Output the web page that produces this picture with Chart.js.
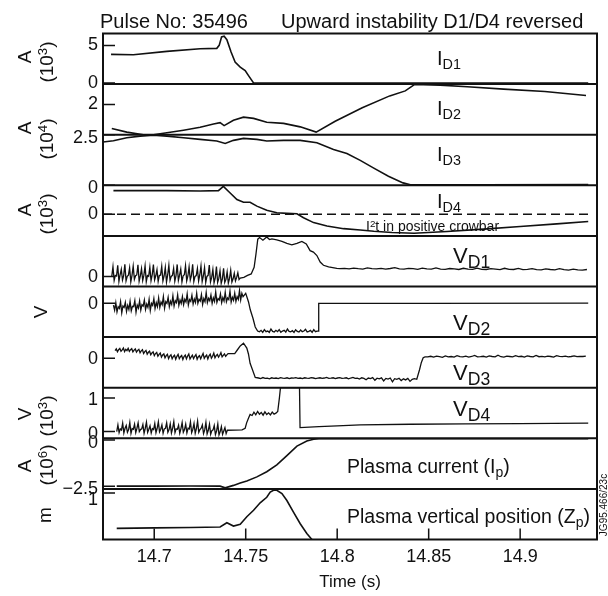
<!DOCTYPE html>
<html>
<head>
<meta charset="utf-8">
<script src="https://cdn.jsdelivr.net/npm/chart.js@4.4.0/dist/chart.umd.min.js"></script>
<style>
  body { margin: 0; background: #fff; }
  #wrap { position: relative; width: 608px; height: 596px; font-family: "Liberation Sans", Arial, sans-serif; color: #111; overflow: hidden; }
  #wrap canvas { position: absolute; left: 0; top: 0; }
  .lbl { position: absolute; white-space: nowrap; line-height: 1; }
  .vlbl sub { font-size: 0.8em; }
  .rot { position: absolute; white-space: nowrap; line-height: 1; font-size: 19px; transform: translate(-50%, -50%) rotate(-90deg); }
  sub { font-size: 0.72em; vertical-align: -0.3em; line-height: 0; }
  sup { font-size: 0.7em; vertical-align: 0.45em; line-height: 0; }
</style>
</head>
<body>
<div id="wrap">
  <canvas id="chart" width="608" height="596"></canvas>

  <div class="lbl" style="left:100px;top:11px;font-size:20px">Pulse No: 35496</div>
  <div class="lbl" style="left:281px;top:11px;font-size:20px">Upward instability D1/D4 reversed</div>

  <div class="lbl" style="left:437px;top:48px;font-size:20px">I<sub>D1</sub></div>
  <div class="lbl" style="left:437px;top:98px;font-size:20px">I<sub>D2</sub></div>
  <div class="lbl" style="left:437px;top:144px;font-size:20px">I<sub>D3</sub></div>
  <div class="lbl" style="left:437px;top:191px;font-size:20px">I<sub>D4</sub></div>
  <div class="lbl" style="left:366px;top:219px;font-size:14px">I<sup>2</sup>t in positive crowbar</div>
  <div class="lbl vlbl" style="left:453px;top:245px;font-size:22px">V<sub>D1</sub></div>
  <div class="lbl vlbl" style="left:453px;top:312px;font-size:22px">V<sub>D2</sub></div>
  <div class="lbl vlbl" style="left:453px;top:362px;font-size:22px">V<sub>D3</sub></div>
  <div class="lbl vlbl" style="left:453px;top:398px;font-size:22px">V<sub>D4</sub></div>
  <div class="lbl" style="left:347px;top:457px;font-size:19.5px">Plasma current (I<sub>p</sub>)</div>
  <div class="lbl" style="left:347px;top:507px;font-size:19.5px">Plasma vertical position (Z<sub>p</sub>)</div>

  <div class="rot" style="left:24px;top:57px">A</div>
  <div class="rot" style="left:46px;top:62px">(10<sup>3</sup>)</div>
  <div class="rot" style="left:24px;top:128px">A</div>
  <div class="rot" style="left:46px;top:139px">(10<sup>4</sup>)</div>
  <div class="rot" style="left:24px;top:210px">A</div>
  <div class="rot" style="left:46px;top:214px">(10<sup>3</sup>)</div>
  <div class="rot" style="left:40px;top:312px">V</div>
  <div class="rot" style="left:24px;top:414px">V</div>
  <div class="rot" style="left:46px;top:416px">(10<sup>3</sup>)</div>
  <div class="rot" style="left:24px;top:466px">A</div>
  <div class="rot" style="left:46px;top:465px">(10<sup>6</sup>)</div>
  <div class="rot" style="left:44px;top:515px">m</div>
  <div class="rot" style="left:604px;top:505px;font-size:10px">JG95.466/23c</div>
</div>

<script>
// Time axis (s)
const timeMin = 14.672
const timeMax = 14.942
const timeTicks = [14.7, 14.75, 14.8, 14.85, 14.9]

// Tick values on each panel
const id1Ticks = [0, 5]
const id2Ticks = [2]
const id3Ticks = [0, 2.5]
const id4Ticks = [0]
const vd1Ticks = [0]
const vd2Ticks = [0]
const vd3Ticks = [0]
const vd4Ticks = [0, 1]
const ipTicks = [-2.5, 0]
const zpTicks = [1]

// I_D1 (10^3 A)
const id1Time = [14.6764, 14.6886, 14.7069, 14.7251, 14.7342, 14.7355, 14.7368, 14.7382, 14.7397, 14.742, 14.7442, 14.747, 14.7497, 14.7519, 14.7543, 14.76, 14.85, 14.9372]
const id1Value = [3.81, 3.77, 4.22, 4.57, 4.62, 5.02, 6.14, 6.23, 5.78, 4.13, 2.78, 2.11, 1.66, 0.85, 0.0, 0.0, 0.0, 0.0]

// I_D2 (10^4 A)
const id2Time = [14.6768, 14.685, 14.6941, 14.6996, 14.7069, 14.716, 14.7251, 14.7324, 14.736, 14.7382, 14.7433, 14.7488, 14.7543, 14.7615, 14.7707, 14.7798, 14.7885, 14.7989, 14.8137, 14.8287, 14.8372, 14.8424, 14.8562, 14.8711, 14.891, 14.9135, 14.936]
const id2Value = [0.41, 0.17, 0.0, 0.0, 0.13, 0.3, 0.49, 0.71, 0.8, 0.6, 0.95, 1.16, 1.08, 0.82, 0.75, 0.52, 0.17, 0.89, 1.79, 2.57, 2.9, 3.33, 3.28, 3.17, 3.02, 2.86, 2.6]

// I_D3 (10^4 A)
const id3Time = [14.672, 14.6777, 14.685, 14.6923, 14.6996, 14.7069, 14.716, 14.7251, 14.7342, 14.7388, 14.7433, 14.7488, 14.7561, 14.7615, 14.7707, 14.7798, 14.7889, 14.798, 14.8053, 14.8126, 14.82, 14.828, 14.836, 14.84, 14.88, 14.9372]
const id3Value = [2.14, 2.2, 2.35, 2.43, 2.47, 2.43, 2.35, 2.27, 2.19, 2.07, 2.22, 2.32, 2.27, 2.19, 2.22, 2.22, 2.1, 1.77, 1.57, 1.23, 0.85, 0.45, 0.12, 0.03, 0.03, 0.04]

// I_D4 (10^3 A) and the I2t crowbar reference
const id4Time = [14.6777, 14.7069, 14.7251, 14.7351, 14.7378, 14.7415, 14.7452, 14.7488, 14.7524, 14.7561, 14.7615, 14.767, 14.7725, 14.778, 14.7816, 14.7871, 14.7944, 14.8035, 14.8126, 14.82, 14.83, 14.842, 14.86, 14.88, 14.9, 14.92, 14.9372]
const id4Value = [1.63, 1.63, 1.61, 1.63, 1.93, 1.47, 1.02, 0.83, 0.83, 0.56, 0.28, 0.1, 0.06, 0.03, -0.24, -0.58, -0.81, -1.0, -1.09, -1.18, -1.27, -1.32, -1.2, -1.03, -0.85, -0.67, -0.5]
const crowbarTime = [14.672, 14.9385]
const crowbarValue = [0, 0]

// V_D1
const vd1NoiseStart = 14.6768
const vd1NoiseStep = 0.00065
const vd1Noise = [0.0, 0.48, -0.2, 0.05, 0.02, 0.55, -0.25, 0.08, 0.35, -0.18, 0.04, 0.6, -0.22, 0.0, 0.06, 0.42, -0.27, 0.05, 0.5, -0.15, 0.03, 0.07, 0.57, -0.24, 0.02, 0.38, -0.2, 0.06, 0.52, -0.26, 0.04, 0.0, 0.45, -0.21, 0.08, 0.58, -0.17, 0.03, 0.33, -0.25, 0.05, 0.06, 0.5, -0.23, 0.02, 0.44, -0.28, 0.07, 0.55, -0.19, 0.0, 0.05, 0.4, -0.24, 0.04, 0.59, -0.2, 0.06, 0.36, -0.27, 0.03, 0.08, 0.53, -0.22, 0.02, 0.47, -0.18, 0.05, 0.6, -0.25, 0.0, 0.04, 0.39, -0.23, 0.07, 0.51, -0.26, 0.02, 0.43, -0.3, 0.0, 0.05, 0.56, -0.28, -0.05, 0.34, -0.32, -0.08, 0.48, -0.3, -0.1, 0.28, -0.34, -0.12, 0.4, -0.3, -0.15, 0.22, -0.33, -0.1, 0.3, -0.28, -0.12, 0.15, -0.22, -0.05, 0.18, -0.15, -0.08]
const vd1Time = [14.749, 14.751, 14.753, 14.7546, 14.7556, 14.7566, 14.7576, 14.7594, 14.7615, 14.763, 14.7643, 14.767, 14.7698, 14.7725, 14.7752, 14.778, 14.7807, 14.7831, 14.7852, 14.787, 14.7889, 14.7907, 14.7925, 14.7953, 14.7998]
const vd1Value = [-0.05, 0.05, 0.12, 0.45, 1.1, 1.84, 1.92, 1.79, 1.95, 1.82, 1.85, 1.8, 1.73, 1.63, 1.56, 1.63, 1.73, 1.6, 1.27, 1.2, 1.03, 0.71, 0.55, 0.47, 0.4]
const vd1TailStart = 14.8015
const vd1TailStep = 0.0025
const vd1Tail = [0.38, 0.4, 0.37, 0.41, 0.38, 0.36, 0.42, 0.38, 0.37, 0.4, 0.36, 0.39, 0.43, 0.37, 0.36, 0.4, 0.38, 0.35, 0.41, 0.37, 0.36, 0.42, 0.36, 0.35, 0.39, 0.37, 0.34, 0.4, 0.36, 0.35, 0.41, 0.35, 0.34, 0.38, 0.36, 0.33, 0.4, 0.35, 0.34, 0.39, 0.33, 0.35, 0.38, 0.33, 0.32, 0.37, 0.34, 0.32, 0.38, 0.33, 0.31, 0.36, 0.32, 0.31, 0.34]

// V_D2
const vd2NoiseStart = 14.6777
const vd2NoiseStep = 0.00065
const vd2Noise = [-0.05, -0.2, 0.02, -0.25, -0.1, -0.15, 0.05, -0.28, -0.08, -0.12, 0.03, -0.24, -0.06, -0.18, 0.06, -0.22, -0.09, -0.1, 0.08, -0.26, -0.05, -0.14, 0.07, -0.2, -0.04, -0.08, 0.1, -0.18, -0.02, -0.12, 0.12, -0.21, 0.0, -0.06, 0.14, -0.15, 0.02, -0.1, 0.16, -0.12, 0.04, -0.04, 0.2, -0.14, 0.05, 0.0, 0.18, -0.1, 0.06, -0.03, 0.22, -0.08, 0.08, 0.02, 0.25, -0.06, 0.1, 0.0, 0.2, -0.04, 0.12, 0.04, 0.28, -0.05, 0.11, 0.06, 0.24, -0.02, 0.13, 0.03, 0.3, 0.0, 0.12, 0.07, 0.26, -0.03, 0.14, 0.05, 0.32, 0.02, 0.15, 0.08, 0.25, 0.0, 0.16, 0.06, 0.34, 0.03, 0.14, 0.1, 0.28, 0.02, 0.17, 0.07, 0.33, 0.05, 0.16, 0.11, 0.36, 0.04, 0.18, 0.09, 0.3, 0.06, 0.2, 0.12, 0.38, 0.1, 0.3, 0.2]
const vd2DropTime = [14.75, 14.7515, 14.7525, 14.754, 14.7552, 14.7565]
const vd2DropValue = [0.3, 0.05, -0.19, -0.45, -0.7, -0.82]
const vd2LowStart = 14.7575
const vd2LowStep = 0.0009
const vd2Low = [-0.84, -0.8, -0.86, -0.78, -0.84, -0.82, -0.86, -0.76, -0.83, -0.85, -0.8, -0.84, -0.78, -0.86, -0.82, -0.8, -0.85, -0.76, -0.83, -0.84, -0.81, -0.86, -0.78, -0.83, -0.85, -0.79, -0.84, -0.82, -0.77, -0.85, -0.83, -0.8, -0.86, -0.78, -0.84, -0.82]
const vd2StepTime = [14.7898, 14.7899, 14.85, 14.9372]
const vd2StepValue = [-0.82, 0.0, 0.0, 0.01]

// V_D3
const vd3NoiseStart = 14.6786
const vd3NoiseStep = 0.00065
const vd3Noise = [0.36, 0.44, 0.3, 0.4, 0.46, 0.33, 0.39, 0.48, 0.31, 0.42, 0.36, 0.47, 0.32, 0.4, 0.45, 0.3, 0.38, 0.44, 0.29, 0.37, 0.42, 0.26, 0.35, 0.4, 0.22, 0.31, 0.37, 0.19, 0.28, 0.33, 0.16, 0.25, 0.3, 0.12, 0.22, 0.27, 0.09, 0.18, 0.24, 0.05, 0.15, 0.2, 0.02, 0.12, 0.18, -0.02, 0.1, 0.16, -0.03, 0.08, 0.14, -0.05, 0.09, 0.18, -0.02, 0.07, 0.13, -0.06, 0.08, 0.15, -0.03, 0.1, 0.2, -0.04, 0.06, 0.14, -0.02, 0.09, 0.17, -0.05, 0.07, 0.12, -0.03, 0.1, 0.22, -0.01, 0.08, 0.15, -0.04, 0.11, 0.19, 0.0, 0.09, 0.24, 0.02, 0.12, 0.18, 0.05, 0.14, 0.26, 0.06, 0.13, 0.2, 0.09, 0.16, 0.22]
const vd3SwingTime = [14.744, 14.7455, 14.747, 14.7488, 14.7506, 14.7515, 14.7524, 14.7535, 14.7552]
const vd3SwingValue = [0.22, 0.4, 0.58, 0.71, 0.48, 0.2, -0.24, -0.5, -0.91]
const vd3LowStart = 14.757
const vd3LowStep = 0.0012
const vd3Low = [-0.94, -0.97, -0.92, -0.96, -0.95, -0.98, -0.93, -0.96, -0.94, -0.97, -0.92, -0.95, -0.96, -0.93, -0.97, -0.94, -0.95, -0.92, -0.96, -0.94, -0.97, -0.93, -0.95, -0.96, -0.92, -0.94, -0.97, -0.95, -0.93, -0.96, -0.94, -0.91, -0.96, -0.95, -0.93, -0.97, -0.94, -0.92, -0.96, -0.95, -0.93, -0.98, -0.94, -0.91, -0.96, -0.95, -0.99, -0.93, -0.96, -1.02, -0.94, -0.97, -0.92, -1.05, -0.95, -0.98, -0.93, -1.08, -0.96, -0.99, -0.94, -1.12, -0.97, -1.0, -0.95, -1.06, -0.98, -1.03, -0.96, -1.1, -1.0, -0.97]
const vd3RiseTime = [14.8435, 14.845, 14.846, 14.847, 14.848]
const vd3RiseValue = [-1.0, -0.55, -0.2, 0.02, 0.06]
const vd3TailStart = 14.8495
const vd3TailStep = 0.0016
const vd3Tail = [0.06, 0.09, 0.05, 0.1, 0.07, 0.04, 0.11, 0.06, 0.08, 0.05, 0.12, 0.07, 0.06, 0.1, 0.05, 0.08, 0.13, 0.06, 0.07, 0.09, 0.05, 0.11, 0.08, 0.06, 0.14, 0.07, 0.05, 0.1, 0.08, 0.06, 0.12, 0.07, 0.09, 0.05, 0.11, 0.08, 0.06, 0.13, 0.07, 0.09, 0.06, 0.1, 0.08, 0.05, 0.12, 0.09, 0.07, 0.1, 0.06, 0.08, 0.11, 0.07, 0.09, 0.08, 0.1]

// V_D4 (10^3 V)
const vd4NoiseStart = 14.6795
const vd4NoiseStep = 0.00065
const vd4Noise = [0.0, 0.2, -0.03, 0.08, 0.05, 0.25, -0.04, 0.1, 0.18, -0.02, 0.06, 0.27, -0.05, 0.09, 0.07, 0.22, -0.03, 0.1, 0.26, 0.0, 0.06, 0.08, 0.21, -0.05, 0.1, 0.28, -0.02, 0.07, 0.17, -0.04, 0.09, 0.06, 0.24, -0.03, 0.1, 0.29, -0.01, 0.07, 0.2, -0.05, 0.08, 0.1, 0.26, -0.02, 0.06, 0.23, -0.04, 0.1, 0.3, -0.03, 0.08, 0.07, 0.19, -0.05, 0.09, 0.27, -0.02, 0.06, 0.22, -0.04, 0.1, 0.08, 0.29, -0.03, 0.07, 0.24, -0.05, 0.09, 0.31, -0.02, 0.06, 0.1, 0.2, -0.06, 0.05, 0.27, -0.07, 0.04, 0.22, -0.08, 0.03, 0.05, 0.18, -0.09, 0.02, 0.23, -0.1, 0.0, 0.15, -0.08, 0.02, 0.12, -0.06, 0.04]
const vd4Time = [14.748, 14.7497, 14.7505, 14.7515, 14.7524, 14.7535, 14.7545, 14.7555, 14.7565, 14.7575, 14.7585, 14.7595, 14.7605, 14.7615, 14.7625, 14.7635, 14.7645, 14.7655, 14.7665, 14.7675, 14.7684, 14.769, 14.7794, 14.7797, 14.79, 14.8, 14.8126, 14.84, 14.87, 14.9, 14.9372]
const vd4Value = [0.05, 0.1, 0.26, 0.4, 0.51, 0.48, 0.58, 0.5, 0.6, 0.52, 0.57, 0.49, 0.59, 0.51, 0.56, 0.5, 0.58, 0.52, 0.55, 0.6, 1.0, 1.31, 1.31, 0.12, 0.15, 0.17, 0.2, 0.22, 0.23, 0.24, 0.25]

// Plasma current (10^6 A)
const ipTime = [14.6795, 14.7, 14.72, 14.736, 14.7388, 14.7433, 14.747, 14.7506, 14.7561, 14.7615, 14.767, 14.7725, 14.778, 14.7834, 14.7871, 14.79, 14.9372]
const ipValue = [-2.5, -2.5, -2.49, -2.5, -2.59, -2.46, -2.33, -2.22, -2.0, -1.72, -1.35, -0.85, -0.33, -0.06, 0.04, 0.07, 0.07]

// Plasma vertical position (m)
const zpTime = [14.6795, 14.7, 14.72, 14.736, 14.7397, 14.7433, 14.747, 14.7506, 14.7543, 14.7579, 14.7615, 14.7634, 14.7652, 14.767, 14.7698, 14.7725, 14.7761, 14.7798, 14.7834, 14.7862]
const zpValue = [0.24, 0.25, 0.26, 0.27, 0.36, 0.29, 0.33, 0.49, 0.63, 0.79, 0.91, 1.02, 1.06, 1.06, 0.99, 0.84, 0.59, 0.34, 0.13, 0.0]

function pairs(times, values) {
  return times.map((t, i) => ({ x: t, y: values[i] }))
}

function sampled(start, step, values) {
  return values.map((v, i) => ({ x: start + i * step, y: v }))
}

const ink = "#111"
Chart.defaults.font.family = '"Liberation Sans", Arial, sans-serif'
Chart.defaults.color = ink

// One y axis per panel, stacked top to bottom
const panelIds = ["yID1", "yID2", "yID3", "yID4", "yVD1", "yVD2", "yVD3", "yVD4", "yIp", "yZp"]

function panelScale(index, min, max, tickValues, labelShift) {
  return {
    type: "linear",
    position: "left",
    stack: "panels",
    stackWeight: 1,
    weight: 100 - index,
    min: min,
    max: max,
    grid: { display: false, drawTicks: false },
    border: { display: false },
    ticks: {
      font: { size: 18 },
      color: ink,
      padding: 5,
      labelOffset: labelShift || 0,
      callback: (value) => (value < 0 ? "\u2212" + Math.abs(value) : String(value)),
    },
    afterBuildTicks: (scale) => {
      scale.ticks = tickValues.map((v) => ({ value: v }))
    },
    afterFit: (scale) => {
      scale.width = 90
    },
  }
}

function trace(points, axis, extra) {
  return Object.assign({ data: points, yAxisID: axis, borderColor: ink, borderWidth: 1.6, pointRadius: 0, tension: 0 }, extra || {})
}

// Frame, panel dividers and inward tick marks
const framePlugin = {
  id: "frame",
  afterDatasetsDraw(chart) {
    const { ctx, chartArea: a, scales } = chart
    ctx.save()
    ctx.strokeStyle = ink
    ctx.lineWidth = 2
    ctx.strokeRect(a.left, a.top, a.right - a.left, a.bottom - a.top)
    ctx.beginPath()
    panelIds.slice(1).forEach((id) => {
      const y = scales[id].top
      ctx.moveTo(a.left, y)
      ctx.lineTo(a.right, y)
    })
    ctx.stroke()
    ctx.lineWidth = 1.5
    ctx.beginPath()
    panelIds.forEach((id) => {
      const s = scales[id]
      s.ticks.forEach((t) => {
        const y = s.getPixelForValue(t.value)
        ctx.moveTo(a.left, y)
        ctx.lineTo(a.left + 12, y)
      })
    })
    scales.x.ticks.forEach((t) => {
      const x = scales.x.getPixelForValue(t.value)
      ctx.moveTo(x, a.bottom)
      ctx.lineTo(x, a.bottom - 11)
    })
    ctx.stroke()
    ctx.restore()
  },
}

const vd1Points = sampled(vd1NoiseStart, vd1NoiseStep, vd1Noise).concat(pairs(vd1Time, vd1Value), sampled(vd1TailStart, vd1TailStep, vd1Tail))
const vd2Points = sampled(vd2NoiseStart, vd2NoiseStep, vd2Noise).concat(pairs(vd2DropTime, vd2DropValue), sampled(vd2LowStart, vd2LowStep, vd2Low), pairs(vd2StepTime, vd2StepValue))
const vd3Points = sampled(vd3NoiseStart, vd3NoiseStep, vd3Noise).concat(pairs(vd3SwingTime, vd3SwingValue), sampled(vd3LowStart, vd3LowStep, vd3Low), pairs(vd3RiseTime, vd3RiseValue), sampled(vd3TailStart, vd3TailStep, vd3Tail))
const vd4Points = sampled(vd4NoiseStart, vd4NoiseStep, vd4Noise).concat(pairs(vd4Time, vd4Value))

new Chart(document.getElementById("chart"), {
  type: "line",
  data: {
    datasets: [
      trace(pairs(id1Time, id1Value), "yID1"),
      trace(pairs(id2Time, id2Value), "yID2"),
      trace(pairs(id3Time, id3Value), "yID3"),
      trace(pairs(id4Time, id4Value), "yID4"),
      trace(pairs(crowbarTime, crowbarValue), "yID4", { borderDash: [9, 5], borderWidth: 1.5 }),
      trace(vd1Points, "yVD1", { borderWidth: 1.3 }),
      trace(vd2Points, "yVD2", { borderWidth: 1.3 }),
      trace(vd3Points, "yVD3", { borderWidth: 1.3 }),
      trace(vd4Points, "yVD4", { borderWidth: 1.3 }),
      trace(pairs(ipTime, ipValue), "yIp"),
      trace(pairs(zpTime, zpValue), "yZp"),
    ],
  },
  options: {
    responsive: false,
    animation: false,
    events: [],
    layout: { padding: { top: 33.5, left: 13, right: 11, bottom: 0 } },
    plugins: { legend: { display: false }, tooltip: { enabled: false } },
    scales: {
      x: {
        type: "linear",
        position: "bottom",
        min: timeMin,
        max: timeMax,
        grid: { display: false, drawTicks: false },
        border: { display: false },
        ticks: { font: { size: 18 }, color: ink, padding: 7, maxRotation: 0, callback: (value) => String(value) },
        afterBuildTicks: (scale) => {
          scale.ticks = timeTicks.map((v) => ({ value: v }))
        },
        title: { display: true, text: "Time (s)", font: { size: 17 }, color: ink, padding: { top: 0, bottom: 3 } },
        afterFit: (scale) => {
          scale.height = 56.5
        },
      },
      yID1: panelScale(0, -0.15, 6.6, id1Ticks),
      yID2: panelScale(1, 0, 3.35, id2Ticks),
      yID3: panelScale(2, 0, 2.5, id3Ticks, 3),
      yID4: panelScale(3, -1.5, 2.0, id4Ticks),
      yVD1: panelScale(4, -0.5, 2.0, vd1Ticks, 1),
      yVD2: panelScale(5, -1.0, 0.5, vd2Ticks, 1),
      yVD3: panelScale(6, -1.4, 1.0, vd3Ticks, 1),
      yVD4: panelScale(7, -0.2, 1.31, vd4Ticks, 2),
      yIp: panelScale(8, -2.65, 0.09, ipTicks, 3),
      yZp: panelScale(9, 0, 1.09, zpTicks, 7),
    },
  },
  plugins: [framePlugin],
})
</script>
</body>
</html>
